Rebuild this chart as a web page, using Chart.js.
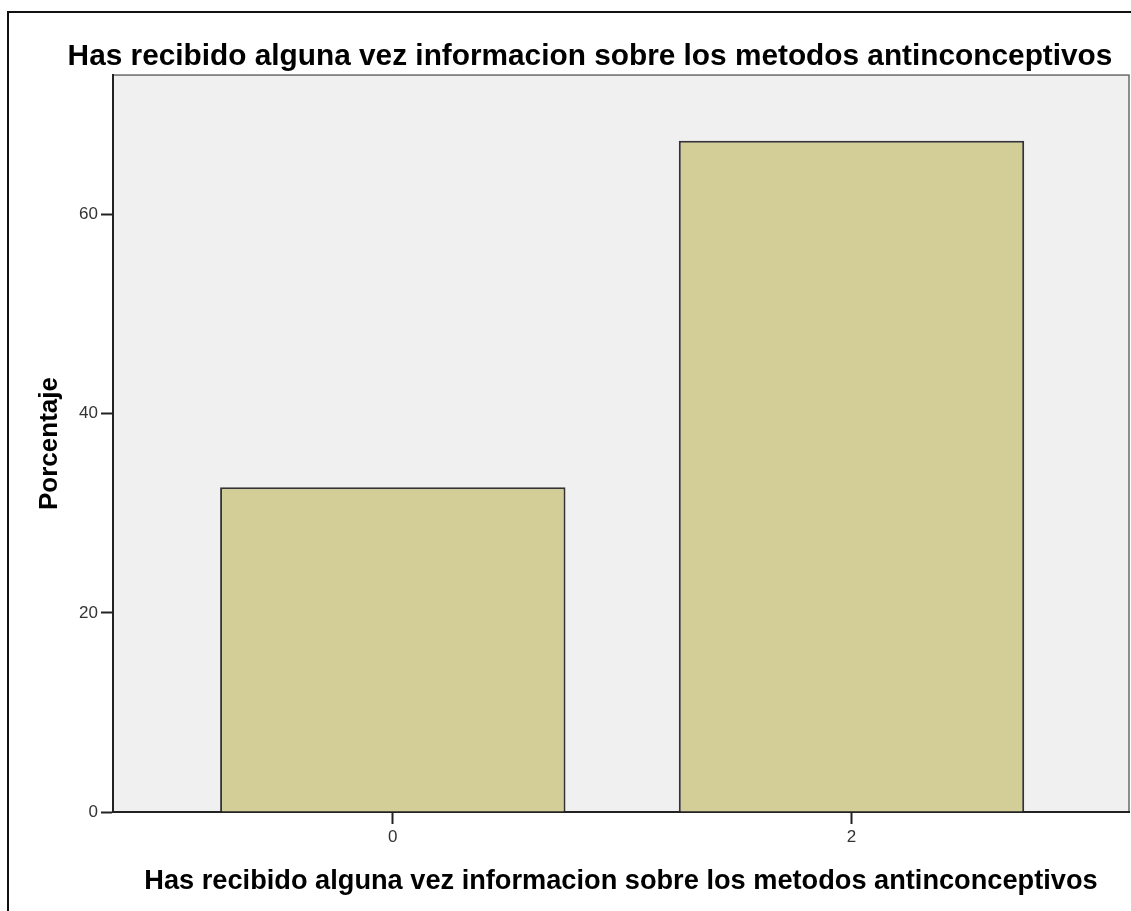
<!DOCTYPE html>
<html>
<head>
<meta charset="utf-8">
<title>Has recibido alguna vez informacion sobre los metodos antinconceptivos</title>
<script src="https://cdn.jsdelivr.net/npm/chart.js@4.4.1/dist/chart.umd.min.js"></script>
<style>
    html, body { margin: 0; padding: 0; background: #fff; overflow: hidden; }
    #frame {
        position: absolute; left: 7px; top: 11px; width: 1200px; height: 1000px;
        border-left: 2px solid #111; border-top: 2px solid #111;
    }
    #chart { position: absolute; left: 0; top: 0; }
</style>
</head>
<body>
<div id="frame"></div>
<canvas id="chart" width="1131" height="911"></canvas>
<script>
// Chart data
const chartTitle = 'Has recibido alguna vez informacion sobre los metodos antinconceptivos';
const categories = [0, 2];
const percentages = [32.6, 67.4];
const yTicks = [0, 20, 40, 60];
const yMax = 74;
const xRange = [-1.22, 3.21];

const axisColor = '#222';

// Grey plot background plus a light frame on top/right (SPSS style)
const plotBackground = {
    id: 'plotBackground',
    beforeDraw(chart) {
        const { ctx, chartArea: a } = chart;
        ctx.save();
        ctx.fillStyle = '#f0f0f0';
        ctx.fillRect(a.left, a.top, a.right - a.left, a.bottom - a.top);
        ctx.strokeStyle = '#6a6a6a';
        ctx.lineWidth = 1.5;
        ctx.strokeRect(a.left, a.top, a.right - a.left, a.bottom - a.top);
        ctx.restore();
    }
};

const ctx = document.getElementById('chart').getContext('2d');
new Chart(ctx, {
    type: 'bar',
    data: {
        datasets: [{
            label: 'Porcentaje',
            data: categories.map((c, i) => ({ x: c, y: percentages[i] })),
            backgroundColor: 'rgb(211, 206, 151)',
            borderColor: '#333',
            borderWidth: 2,
            categoryPercentage: 1,
            barPercentage: 0.753
        }]
    },
    options: {
        responsive: false,
        devicePixelRatio: 1,
        animation: false,
        layout: { padding: { left: 51, right: 2, top: 0, bottom: 0 } },
        plugins: {
            legend: { display: false },
            tooltip: { enabled: false },
            title: {
                display: true,
                text: chartTitle,
                color: '#000',
                font: { family: 'Liberation Sans', size: 29.8, weight: 'bold', lineHeight: 1.2 },
                padding: { top: 39, bottom: 0.3 }
            }
        },
        scales: {
            x: {
                type: 'linear',
                min: xRange[0],
                max: xRange[1],
                offset: false,
                afterBuildTicks: (scale) => { scale.ticks = categories.map(v => ({ value: v })); },
                afterFit: (scale) => { scale.height = 99; },
                grid: { display: true, drawOnChartArea: false, offset: false, tickLength: 12, tickColor: axisColor, tickWidth: 2 },
                border: { display: true, color: axisColor, width: 2 },
                ticks: {
                    color: '#333',
                    padding: 3,
                    font: { family: 'Liberation Sans', size: 17 },
                    callback: (v) => String(v)
                },
                title: {
                    display: true,
                    text: chartTitle,
                    color: '#000',
                    font: { family: 'Liberation Sans', size: 27.2, weight: 'bold', lineHeight: 1.2 },
                    padding: { top: 0, bottom: 13.5 }
                }
            },
            y: {
                min: 0,
                max: yMax,
                afterBuildTicks: (scale) => { scale.ticks = yTicks.map(v => ({ value: v })); },
                afterFit: (scale) => { scale.width = 62; },
                grid: { display: true, drawOnChartArea: false, tickLength: 12, tickColor: axisColor, tickWidth: 2 },
                border: { display: true, color: axisColor, width: 2 },
                ticks: {
                    color: '#333',
                    padding: 3,
                    font: { family: 'Liberation Sans', size: 17 }
                },
                title: {
                    display: true,
                    text: 'Porcentaje',
                    color: '#000',
                    font: { family: 'Liberation Sans', size: 26, weight: 'bold', lineHeight: 1.2 },
                    padding: { top: -17, bottom: 0 }
                }
            }
        }
    },
    plugins: [plotBackground]
});
</script>
</body>
</html>
